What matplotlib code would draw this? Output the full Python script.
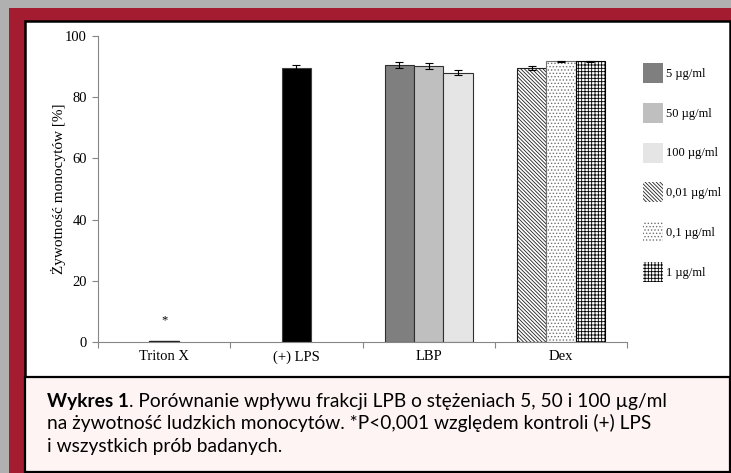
import numpy as np
import matplotlib.pyplot as plt
import matplotlib.patches as mpatches

plt.rcParams['hatch.linewidth'] = 0.6

# data
categories = ['Triton X', '(+) LPS', 'LBP', 'Dex']
single_vals = [0.4, 89.7]          # Triton X, (+) LPS
single_err = [0.0, 0.8]
lbp_vals = [90.5, 90.2, 88.0]
lbp_err = [1.1, 1.0, 0.9]
dex_vals = [89.6, 91.7, 91.7]
dex_err = [0.7, 0.2, 0.2]
lbp_labels = ['5 µg/ml', '50 µg/ml', '100 µg/ml']
dex_labels = ['0,01 µg/ml', '0,1 µg/ml', '1 µg/ml']
y_ticks = [0, 20, 40, 60, 80, 100]
caption = ['Porównanie wpływu frakcji LPB o stężeniach 5, 50 i 100 µg/ml',
           'na żywotność ludzkich monocytów. *P<0,001 względem kontroli (+) LPS',
           'i wszystkich prób badanych.']

lbp_colors = ['#7f7f7f', '#bfbfbf', '#e5e5e5']
dex_hatch = ['\\' * 9, '.....', '+++++']
dex_hcol = ['#202020', '#707070', '#000000']

W, H = 731, 473
fig = plt.figure(figsize=(W / 100, H / 100), dpi=100, facecolor='#b0b0b0')

def px(x0, y0, x1, y1):
    # pixel box (top-left origin) -> figure fraction rectangle
    return (x0 / W, 1 - y1 / H), (x1 - x0) / W, (y1 - y0) / H

# red frame, white panel, caption panel (behind the axes)
for box, fc, ec, lw in [((9, 8, 731, 473), '#a31c30', 'none', 0),
                        ((25, 21, 730, 377), 'white', 'black', 1.8),
                        ((25, 377, 730, 472), '#fff4f4', 'black', 1.6)]:
    xy, w, h = px(*box)
    fig.patches.append(mpatches.Rectangle(xy, w, h, transform=fig.transFigure,
                                          facecolor=fc, edgecolor=ec, linewidth=lw,
                                          zorder=-10))

ax = fig.add_axes([98 / W, 1 - 342 / H, (627 - 98) / W, 306 / H])
ax.set_facecolor('none')

bw = 0.222
x = np.arange(len(categories))
serif = 'Liberation Serif'
ekw = dict(elinewidth=0.8, capthick=0.8, ecolor='black')

# Triton X and (+) LPS
ax.bar(x[0], single_vals[0], bw, color='#303030', edgecolor='#202020', linewidth=1.0)
ax.bar(x[1], single_vals[1], bw, color='black', edgecolor='#404040', linewidth=0.8,
       yerr=single_err[1], capsize=3, error_kw=ekw)

handles = []
for i in range(3):
    ax.bar(x[2] + (i - 1) * bw, lbp_vals[i], bw, color=lbp_colors[i],
           edgecolor='#303030', linewidth=0.8, yerr=lbp_err[i], capsize=3, error_kw=ekw)
    handles.append(mpatches.Patch(facecolor=lbp_colors[i], edgecolor=lbp_colors[i],
                                  linewidth=0, label=lbp_labels[i]))
for i in range(3):
    ax.bar(x[3] + (i - 1) * bw, dex_vals[i], bw, color='white', hatch=dex_hatch[i],
           edgecolor=dex_hcol[i], linewidth=0.8, yerr=dex_err[i], capsize=3, error_kw=ekw)
    handles.append(mpatches.Patch(facecolor='white', hatch=dex_hatch[i],
                                  edgecolor=dex_hcol[i], linewidth=0, label=dex_labels[i]))

ax.text(x[0], 7, '*', ha='center', va='center', fontsize=9, family=serif)

ax.set_xlim(-0.5, 3.5)
ax.set_ylim(0, 100)
ax.set_yticks(y_ticks)
ax.set_xticks(x)
ax.set_xticklabels(categories, family=serif, fontsize=10.5)
ax.set_xticks(np.arange(-0.5, 4, 1), minor=True)
ax.tick_params(axis='x', which='major', length=0, pad=6)
ax.tick_params(axis='x', which='minor', length=4, color='#868686', width=0.8, direction='out')
ax.tick_params(axis='y', length=4, color='#868686', width=0.8, pad=4)
for lab in ax.get_yticklabels():
    lab.set_family(serif)
    lab.set_fontsize(10.5)
for s in ['top', 'right']:
    ax.spines[s].set_visible(False)
for s in ['left', 'bottom']:
    ax.spines[s].set_color('#868686')
    ax.spines[s].set_linewidth(0.8)
ax.set_ylabel('Żywotność monocytów [%]', family=serif, fontsize=11, labelpad=-1)

fig.legend(handles=handles, loc='upper left', bbox_to_anchor=(638 / W, 1 - 58 / H),
           frameon=False, prop={'family': serif, 'size': 9}, handlelength=1.6,
           handleheight=2.085, labelspacing=1.58, handletextpad=0.25, borderaxespad=0)

# caption
fy = [401, 423, 446]
cfs = 13.8
t = fig.text(47 / W, 1 - fy[0] / H, 'Wykres 1', fontsize=cfs, family='Lato',
             weight='bold', va='center', ha='left')
fig.canvas.draw()
bb = t.get_window_extent()
fig.text(bb.x1 / W, 1 - fy[0] / H, '. ' + caption[0], fontsize=cfs, family='Lato',
         va='center', ha='left')
for yy, line in zip(fy[1:], caption[1:]):
    fig.text(47 / W, 1 - yy / H, line, fontsize=cfs, family='Lato', va='center', ha='left')

fig.savefig('out.png', dpi=100, facecolor=fig.get_facecolor())
